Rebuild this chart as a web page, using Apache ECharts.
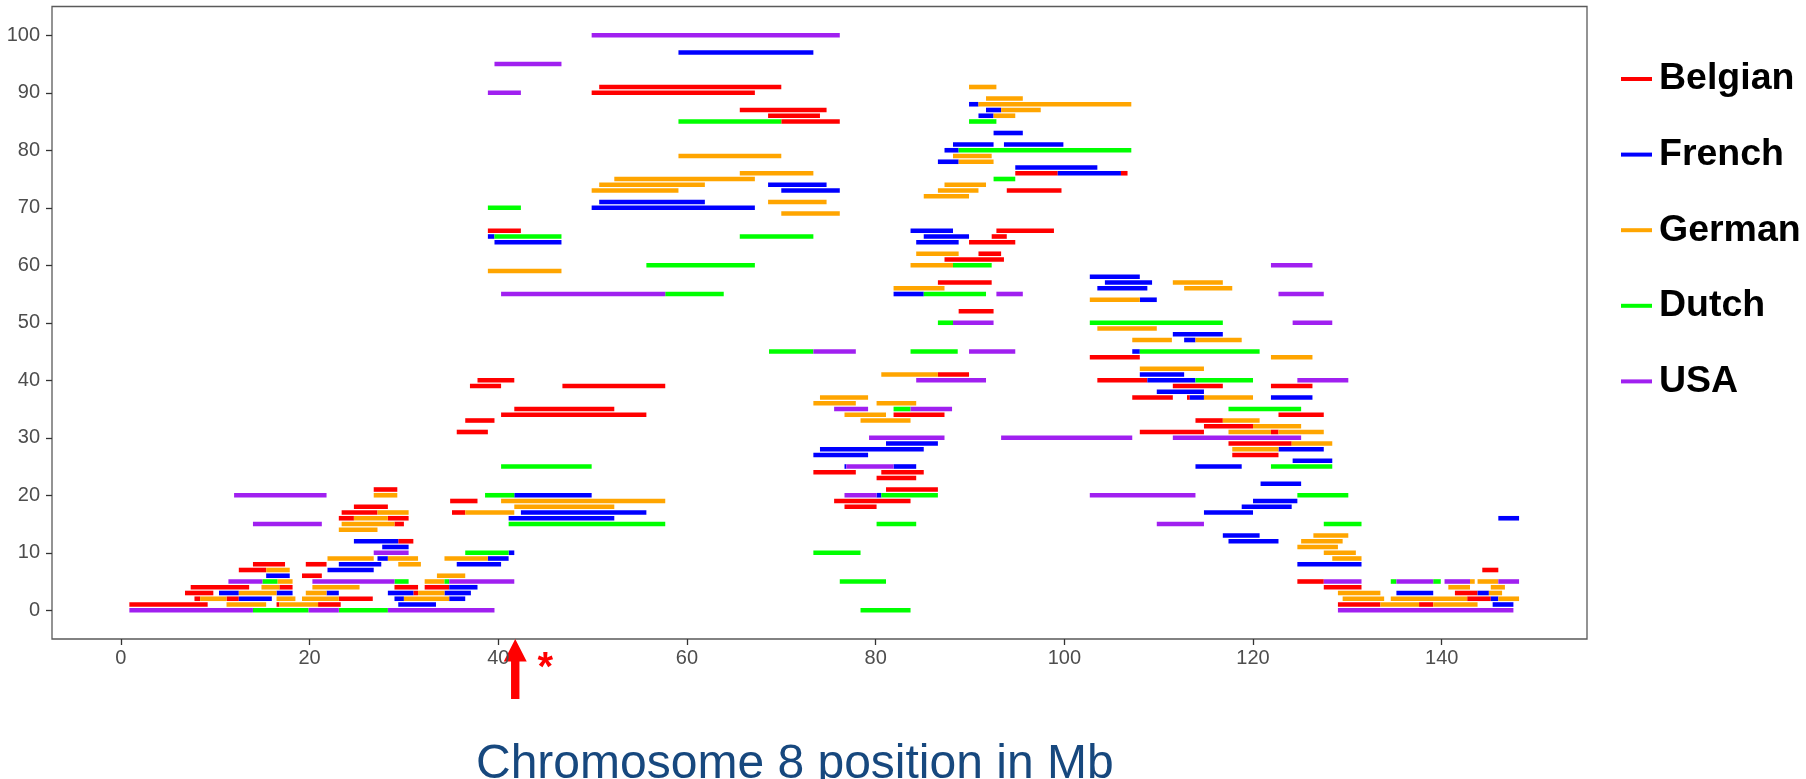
<!DOCTYPE html>
<html>
<head>
<meta charset="utf-8">
<script src="https://cdn.jsdelivr.net/npm/echarts@6/dist/echarts.min.js"></script>
<style>
  html, body { margin: 0; padding: 0; background: #fff; }
  #chart { width: 1806px; height: 779px; }
</style>
</head>
<body>
<div id="chart"></div>
<script>
// shared haplotype segments, one entry per segment: [start Mb, end Mb, haplotype row]
const belgian = [
  [0.9, 9.2, 1], [16.5, 16.8, 1], [20.9, 23.3, 1], [129.0, 133.5, 1], [137.6, 139.1, 1],
  [7.8, 8.4, 2], [11.2, 12.5, 2], [23.1, 26.7, 2], [142.7, 145.2, 2],
  [6.8, 9.8, 3], [31.0, 31.5, 3], [141.4, 143.8, 3],
  [7.4, 13.6, 4], [16.8, 18.2, 4], [29.0, 31.5, 4], [32.2, 34.8, 4], [127.5, 131.5, 4],
  [124.7, 127.5, 5], [19.2, 21.3, 6], [12.5, 15.4, 7], [144.3, 146.0, 7],
  [14.0, 17.4, 8], [19.6, 21.8, 8], [29.4, 31.0, 12], [29.0, 30.0, 15],
  [23.1, 24.7, 16], [28.3, 30.5, 16], [23.4, 27.2, 17], [35.1, 36.5, 17],
  [24.7, 28.3, 18], [76.7, 80.1, 18], [34.9, 37.8, 19], [75.6, 83.7, 19],
  [26.8, 29.3, 21], [81.1, 86.6, 21], [80.1, 84.3, 23], [73.4, 77.9, 24], [80.6, 85.1, 24],
  [117.8, 122.7, 27], [117.4, 124.1, 29],
  [35.6, 38.9, 31], [108.0, 114.8, 31], [121.9, 122.7, 31], [114.8, 120.0, 32],
  [36.5, 39.6, 33], [113.9, 116.8, 33], [40.3, 55.7, 34], [81.9, 87.3, 34], [122.7, 127.5, 34],
  [41.7, 52.3, 35], [107.2, 111.5, 37], [113.0, 113.3, 37],
  [37.0, 40.3, 39], [46.8, 57.7, 39], [111.5, 116.8, 39], [121.9, 126.3, 39],
  [37.8, 41.7, 40], [103.5, 108.8, 40], [86.6, 89.9, 41], [102.7, 108.0, 44],
  [88.8, 92.5, 52], [86.6, 92.3, 57], [87.3, 93.6, 61], [90.9, 93.3, 62], [89.9, 94.8, 64],
  [92.3, 93.9, 65], [38.9, 42.4, 66], [92.8, 98.9, 66], [93.9, 99.7, 73],
  [94.8, 99.3, 76], [106.0, 106.7, 76],
  [70.0, 76.2, 85], [68.6, 74.1, 86], [65.6, 74.8, 87], [49.9, 67.2, 90], [50.7, 70.0, 91]
];
const french = [
  [29.4, 33.4, 1], [145.4, 147.6, 1],
  [12.5, 16.0, 2], [29.0, 30.0, 2], [34.8, 36.5, 2], [145.2, 146.0, 2],
  [10.4, 12.5, 3], [16.5, 18.2, 3], [21.8, 23.1, 3], [28.3, 31.0, 3], [34.3, 37.1, 3],
  [135.2, 139.1, 3], [143.8, 145.0, 3],
  [34.8, 37.8, 4], [15.4, 17.9, 6], [21.9, 26.8, 7],
  [23.1, 27.6, 8], [35.6, 40.3, 8], [124.7, 131.5, 8], [27.2, 28.3, 9], [38.9, 41.1, 9],
  [41.1, 41.7, 10], [27.7, 30.5, 11], [24.7, 29.4, 12], [117.4, 122.7, 12], [116.8, 120.7, 13],
  [41.1, 52.3, 16], [146.0, 148.2, 16], [42.4, 55.7, 17], [114.8, 120.0, 17],
  [118.8, 124.1, 18], [120.0, 124.7, 19], [41.7, 49.9, 20], [80.1, 80.6, 20], [120.8, 125.1, 22],
  [76.7, 76.9, 25], [81.9, 84.3, 25], [113.9, 118.8, 25], [124.2, 128.4, 26],
  [73.4, 79.2, 27], [74.1, 85.1, 28], [122.7, 127.5, 28], [81.1, 86.6, 29],
  [113.3, 114.8, 37], [121.9, 126.3, 37], [109.8, 114.8, 38], [108.8, 113.9, 40],
  [108.0, 112.7, 41], [107.2, 108.0, 45], [112.7, 113.9, 47], [111.5, 116.8, 48],
  [108.0, 109.8, 54], [81.9, 85.1, 55], [103.5, 108.8, 56], [104.3, 109.3, 57], [102.7, 108.0, 58],
  [39.6, 46.7, 64], [84.3, 88.8, 64], [38.9, 39.6, 65], [85.1, 89.9, 65], [83.7, 88.2, 66],
  [49.9, 67.2, 70], [50.7, 61.9, 71], [70.0, 76.2, 73], [68.6, 74.8, 74],
  [99.3, 106.0, 76], [94.8, 103.5, 77], [86.6, 88.8, 78], [87.3, 88.8, 80],
  [88.2, 92.5, 81], [93.6, 99.9, 81], [92.5, 95.6, 83], [90.9, 92.5, 86], [91.7, 93.3, 87],
  [89.9, 90.9, 88], [59.1, 73.4, 97]
];
const german = [
  [11.2, 15.4, 1], [16.8, 20.9, 1], [133.5, 137.6, 1], [139.1, 143.8, 1],
  [8.4, 11.2, 2], [16.5, 18.5, 2], [19.2, 23.1, 2], [30.0, 34.8, 2],
  [129.5, 133.9, 2], [134.6, 142.7, 2], [146.0, 148.2, 2],
  [12.5, 16.5, 3], [19.6, 21.8, 3], [31.5, 34.3, 3], [129.0, 133.5, 3], [145.0, 146.4, 3],
  [14.9, 16.8, 4], [20.3, 25.3, 4], [140.7, 143.0, 4], [145.2, 146.7, 4],
  [16.6, 18.2, 5], [32.2, 34.3, 5], [143.0, 143.5, 5], [143.8, 146.0, 5],
  [33.5, 36.5, 6], [15.4, 17.9, 7], [29.4, 31.8, 8],
  [21.9, 26.8, 9], [28.3, 31.5, 9], [34.3, 38.9, 9], [128.4, 131.5, 9],
  [127.5, 130.9, 10], [124.7, 129.0, 11], [125.1, 129.5, 12], [126.4, 130.1, 13],
  [23.1, 27.2, 14], [23.4, 29.0, 15], [24.7, 28.3, 16], [27.2, 30.5, 17], [36.5, 41.7, 17],
  [41.7, 52.3, 18], [40.3, 57.7, 19], [26.8, 29.3, 20],
  [117.8, 122.7, 28], [124.1, 128.4, 29], [117.4, 121.9, 31], [122.7, 127.5, 31],
  [120.0, 125.1, 32], [78.4, 83.7, 33], [116.8, 120.7, 33], [76.7, 81.1, 34],
  [73.4, 77.9, 36], [80.1, 84.3, 36], [74.1, 79.2, 37], [114.8, 120.0, 37],
  [80.6, 86.6, 41], [108.0, 114.8, 42], [121.9, 126.3, 44],
  [107.2, 111.4, 47], [113.9, 118.8, 47], [103.5, 109.8, 49], [102.7, 108.0, 54],
  [81.9, 87.3, 56], [112.7, 117.8, 56], [111.5, 116.8, 57], [38.9, 46.7, 59],
  [83.7, 88.2, 60], [84.3, 88.8, 62], [70.0, 76.2, 69], [68.6, 74.8, 71], [85.1, 89.9, 72],
  [49.9, 59.1, 73], [86.6, 90.9, 73], [50.7, 61.9, 74], [87.3, 91.7, 74], [52.3, 67.2, 75],
  [65.6, 73.4, 76], [88.8, 92.5, 78], [59.1, 70.0, 79], [88.2, 92.3, 79],
  [92.5, 94.8, 86], [93.3, 97.5, 87], [90.9, 107.1, 88], [91.7, 95.6, 89], [89.9, 92.8, 91]
];
const dutch = [
  [14.0, 19.9, 0], [23.1, 28.3, 0], [78.4, 83.7, 0],
  [15.0, 16.6, 5], [29.0, 30.5, 5], [34.3, 34.8, 5], [76.2, 81.1, 5], [134.6, 135.2, 5], [139.1, 139.9, 5],
  [36.5, 41.1, 10], [73.4, 78.4, 10],
  [41.1, 57.7, 15], [80.1, 84.3, 15], [127.5, 131.5, 15],
  [38.6, 41.7, 20], [80.6, 86.6, 20], [124.7, 130.1, 20],
  [40.3, 49.9, 25], [121.9, 128.4, 25], [81.9, 83.7, 35], [117.4, 125.1, 35],
  [113.9, 120.0, 40], [68.7, 73.4, 45], [83.7, 88.7, 45], [108.0, 120.7, 45],
  [86.6, 88.2, 50], [102.7, 116.8, 50], [57.7, 63.9, 55], [85.1, 91.7, 55],
  [55.7, 67.2, 60], [88.2, 92.3, 60], [39.6, 46.7, 65], [65.6, 73.4, 65], [38.9, 42.4, 70],
  [92.5, 94.8, 75], [88.8, 107.1, 80], [59.1, 70.0, 85], [89.9, 92.8, 85]
];
const usa = [
  [0.9, 14.0, 0], [19.9, 23.1, 0], [28.3, 39.6, 0], [129.0, 147.6, 0],
  [11.4, 15.0, 5], [20.3, 29.0, 5], [34.8, 41.7, 5], [127.5, 131.5, 5],
  [135.2, 139.1, 5], [140.3, 143.0, 5], [146.0, 148.2, 5],
  [26.8, 30.5, 10], [14.0, 21.3, 15], [109.8, 114.8, 15],
  [12.0, 21.8, 20], [76.7, 80.1, 20], [102.7, 113.9, 20], [76.9, 81.9, 25],
  [79.3, 87.3, 30], [93.3, 107.2, 30], [111.5, 125.1, 30], [75.6, 79.2, 35], [83.7, 88.1, 35],
  [84.3, 91.7, 40], [124.7, 130.1, 40], [73.4, 77.9, 45], [89.9, 94.8, 45],
  [88.2, 92.5, 50], [124.2, 128.4, 50], [40.3, 57.7, 55], [92.8, 95.6, 55], [122.7, 127.5, 55],
  [121.9, 126.3, 60], [38.9, 42.4, 90], [39.6, 46.7, 95], [49.9, 76.2, 100]
];

const populations = ['Belgian', 'French', 'German', 'Dutch', 'USA'];
const segments = [belgian, french, german, dutch, usa];
const popColors = ['#FF0000', '#0000FF', '#FFA500', '#00FF00', '#A020F0'];
const xTicks = [0, 20, 40, 60, 80, 100, 120, 140];
const yTicks = [0, 10, 20, 30, 40, 50, 60, 70, 80, 90, 100];
const arrowAt = 41.8; // marked locus, Mb

const chart = echarts.init(document.getElementById('chart'));

// draw one segment as a thin horizontal bar
function renderSegment(params, api) {
  const a = api.coord([api.value(0), api.value(2)]);
  const b = api.coord([api.value(1), api.value(2)]);
  const h = 4.6;
  return {
    type: 'rect',
    shape: { x: a[0], y: a[1] - h / 2, width: b[0] - a[0], height: h },
    style: { fill: api.visual('color') }
  };
}

const axisFont = { color: '#4D4D4D', fontSize: 20, fontFamily: 'Liberation Sans, Arial' };

chart.setOption({
  animation: false,
  grid: {
    left: 52, right: 219, top: 6.5, bottom: 140,
    show: true, borderColor: '#5a5a5a', borderWidth: 1.3
  },
  legend: {
    orient: 'vertical',
    left: 1616, top: 55,
    itemWidth: 31, itemHeight: 4,
    itemGap: 37.6,
    data: populations.map(name => ({ name: name, icon: 'rect' })),
    textStyle: {
      fontSize: 37.5, fontWeight: 'bold', color: '#000',
      fontFamily: 'Liberation Sans, Arial', padding: [0, 0, 0, 2]
    }
  },
  xAxis: {
    type: 'value', min: -7.3, max: 155.4,
    splitLine: { show: false },
    axisLine: { show: false, onZero: false },
    axisTick: { show: true, customValues: xTicks, length: 6, lineStyle: { color: '#333', width: 1.3 } },
    axisLabel: Object.assign({ customValues: xTicks, margin: 9 }, axisFont)
  },
  yAxis: {
    type: 'value', min: -5, max: 105,
    splitLine: { show: false },
    axisLine: { show: false, onZero: false },
    axisTick: { show: true, customValues: yTicks, length: 6, lineStyle: { color: '#333', width: 1.3 } },
    axisLabel: Object.assign({ customValues: yTicks, margin: 12 }, axisFont)
  },
  series: populations.map((name, i) => ({
    name: name,
    type: 'custom',
    renderItem: renderSegment,
    itemStyle: { color: popColors[i] },
    encode: { x: [0, 1], y: 2 },
    data: segments[i]
  }))
});

// annotations: red arrow at the locus, and the axis caption
const tip = chart.convertToPixel({ gridIndex: 0 }, [arrowAt, -5]);
chart.setOption({
  graphic: [
    {
      type: 'polygon',
      x: tip[0], y: tip[1],
      shape: { points: [[0, 0], [11.5, 22.5], [4.2, 22.5], [4.2, 60], [-4.2, 60], [-4.2, 22.5], [-11.5, 22.5]] },
      style: { fill: '#FF0000' }
    },
    {
      type: 'text',
      x: tip[0] + 30, y: tip[1] + 30,
      style: {
        text: '*', fill: '#FF0000', fontSize: 40, fontWeight: 'bold',
        fontFamily: 'Liberation Sans, Arial', align: 'center', verticalAlign: 'middle'
      }
    },
    {
      type: 'text',
      x: 476, y: 765,
      style: {
        text: 'Chromosome 8 position in Mb', fill: '#17487E', fontSize: 48,
        fontFamily: 'Liberation Sans, Arial', align: 'left', verticalAlign: 'middle'
      }
    }
  ]
});
</script>
</body>
</html>
